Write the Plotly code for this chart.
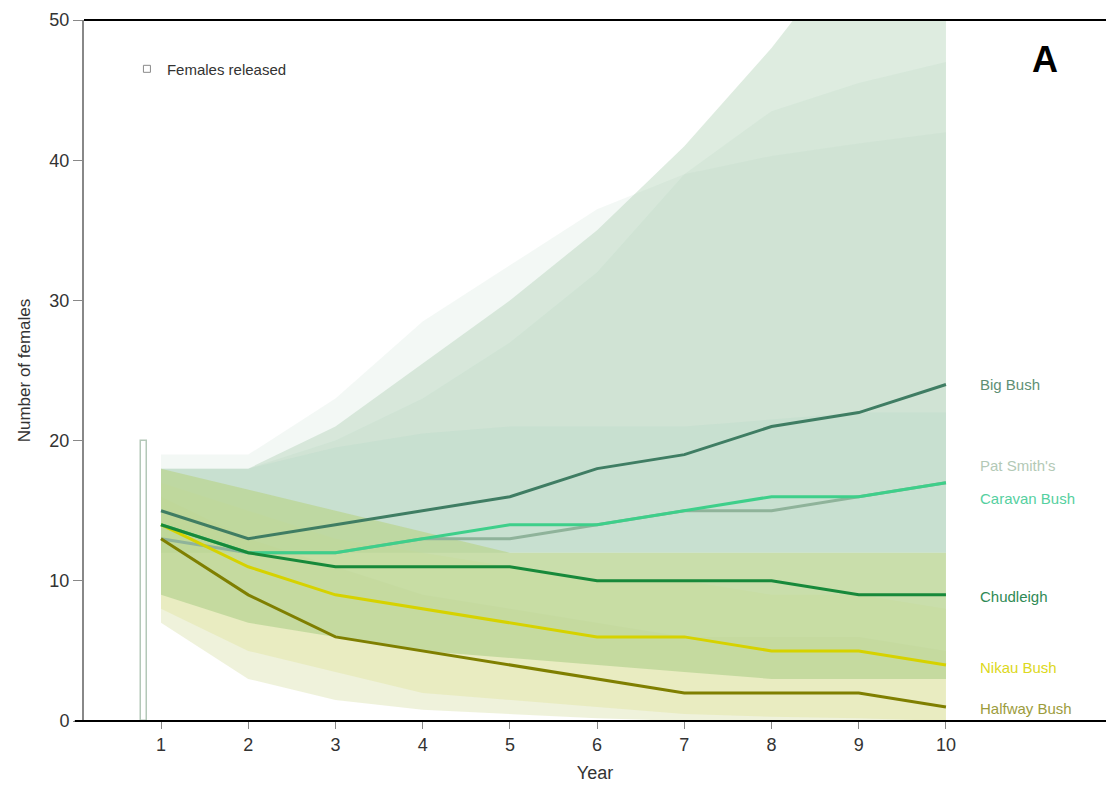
import plotly.graph_objects as go

years = [1, 2, 3, 4, 5, 6, 7, 8, 9, 10]

# median projections
big_bush = [15, 13, 14, 15, 16, 18, 19, 21, 22, 24]
pat_smiths = [13, 12, 12, 13, 13, 14, 15, 15, 16, 17]
caravan = [14, 12, 12, 13, 14, 14, 15, 16, 16, 17]
chudleigh = [14, 12, 11, 11, 11, 10, 10, 10, 9, 9]
nikau = [14, 11, 9, 8, 7, 6, 6, 5, 5, 4]
halfway = [13, 9, 6, 5, 4, 3, 2, 2, 2, 1]

# uncertainty bands (lower, upper)
big_bush_lo = [12, 12, 12, 12, 12, 12, 12, 12, 12, 12]
big_bush_hi = [18, 18, 21, 25.5, 30, 35, 41, 48, 56, 64]
big_bush_inner_lo = [12, 12, 12, 12, 12, 12, 12, 12, 12, 12]
big_bush_inner_hi = [18, 18, 19.5, 20.5, 21, 21, 21, 21.5, 22, 22]
pat_lo = [12, 12, 12, 12, 12, 12, 12, 12, 12, 12]
pat_hi = [19, 19, 23, 28.5, 32.5, 36.5, 39, 40.3, 41.2, 42]
caravan_lo = [12, 12, 12, 12, 12, 12, 12, 12, 12, 12]
caravan_hi = [18, 18, 20, 23, 27, 32, 39, 43.5, 45.5, 47]
chud_lo = [9, 7, 6, 5, 4.5, 4, 3.5, 3, 3, 3]
chud_hi = [18, 16.5, 15, 13.5, 12, 12, 12, 12, 12, 12]
nikau_lo = [8, 5, 3.5, 2, 1.5, 1, 0.5, 0.3, 0.2, 0]
nikau_hi = [17, 15, 13, 12, 11, 10, 10, 9, 9, 8]
halfway_lo = [7, 3, 1.5, 0.8, 0.5, 0.2, 0, 0, 0, 0]
halfway_hi = [16, 13, 11, 9, 8, 7, 6, 6, 6, 5]

released_x = [0.8]
released_n = [20]

site_names = ["Big Bush", "Pat Smith's", "Caravan Bush", "Chudleigh", "Nikau Bush", "Halfway Bush"]
label_y = [24, 18.2, 15.9, 8.85, 3.85, 0.86]
label_colors = ["#5e8f74", "#b3c9b6", "#55d0a0", "#2f8a55", "#dcd820", "#9c9c3c"]

FONT = "Arial, Liberation Sans, sans-serif"

fig = go.Figure()

fig.add_trace(go.Bar(x=released_x, y=released_n, width=0.07,
                     marker=dict(color="white", line=dict(color="#b4c8b8", width=1.5)),
                     name="Females released", legendgroup="rel", showlegend=False))
fig.add_trace(go.Scatter(x=[None], y=[None], mode="markers", legendgroup="rel",
                         marker=dict(symbol="square-open", size=7, color="#8a8a8a",
                                     line=dict(width=1)),
                         name="Females released", showlegend=True))


def band(lo, hi, color):
    fig.add_trace(go.Scatter(x=years + years[::-1], y=hi + lo[::-1], fill="toself",
                             fillcolor=color, line=dict(width=0), mode="lines",
                             hoverinfo="skip", showlegend=False))


band(big_bush_lo, big_bush_hi, "rgba(161,201,166,0.35)")
band(caravan_lo, caravan_hi, "rgba(169,209,184,0.15)")
band(pat_lo, pat_hi, "rgba(174,205,191,0.15)")
band(big_bush_inner_lo, big_bush_inner_hi, "rgba(155,208,187,0.15)")
band(nikau_lo, nikau_hi, "rgba(225,225,120,0.25)")
band(halfway_lo, halfway_hi, "rgba(190,205,110,0.25)")
band(chud_lo, chud_hi, "rgba(188,214,150,0.8)")

series = [big_bush, pat_smiths, caravan, chudleigh, nikau, halfway]
line_colors = ["#3f7d63", "#8fb39a", "#3ecf8a", "#17893a", "#d6d200", "#7f7f00"]
order = [1, 0, 2, 5, 4, 3]
for i in order:
    fig.add_trace(go.Scatter(x=years, y=series[i], mode="lines",
                             line=dict(color=line_colors[i], width=3),
                             name=site_names[i], showlegend=False))

for name, yv, col in zip(site_names, label_y, label_colors):
    fig.add_annotation(x=10.37, y=yv, text=name, showarrow=False, xanchor="left",
                       yanchor="middle", font=dict(family=FONT, size=15, color=col))

fig.add_annotation(x=11.14, y=47.2, text="<b>A</b>", showarrow=False,
                   font=dict(family=FONT, size=36, color="black"))

# top and bottom frame lines
fig.add_shape(type="line", xref="paper", yref="paper", x0=0, x1=1, y0=1, y1=1,
              line=dict(color="black", width=2))
fig.add_shape(type="line", xref="paper", yref="paper", x0=-0.009, x1=1, y0=0, y1=0,
              line=dict(color="black", width=2))

fig.update_layout(
    width=1106, height=793,
    margin=dict(l=84, r=0, t=20, b=72),
    plot_bgcolor="white", paper_bgcolor="white",
    font=dict(family=FONT, color="#333333"),
    legend=dict(x=0.042, y=0.93, xanchor="left", yanchor="middle",
                bgcolor="rgba(0,0,0,0)", font=dict(size=15, color="#333333")),
    bargap=0,
)
fig.update_xaxes(range=[0.117, 11.835], tickvals=years, ticktext=[str(y) for y in years],
                 ticks="outside", ticklen=7, tickcolor="#888888", showgrid=False,
                 zeroline=False, showline=False, tickfont=dict(size=18, color="#333333"),
                 title=dict(text="Year", font=dict(size=18, color="#333333"), standoff=12))
fig.update_yaxes(range=[0, 50], tickvals=[0, 10, 20, 30, 40, 50], ticks="outside",
                 ticklen=9, tickcolor="#888888", showgrid=False, zeroline=False,
                 showline=True, linecolor="#888888", linewidth=2,
                 tickfont=dict(size=18, color="#333333"),
                 title=dict(text="Number of females", font=dict(size=17, color="#333333"),
                            standoff=14))

fig.write_html("out.html")
